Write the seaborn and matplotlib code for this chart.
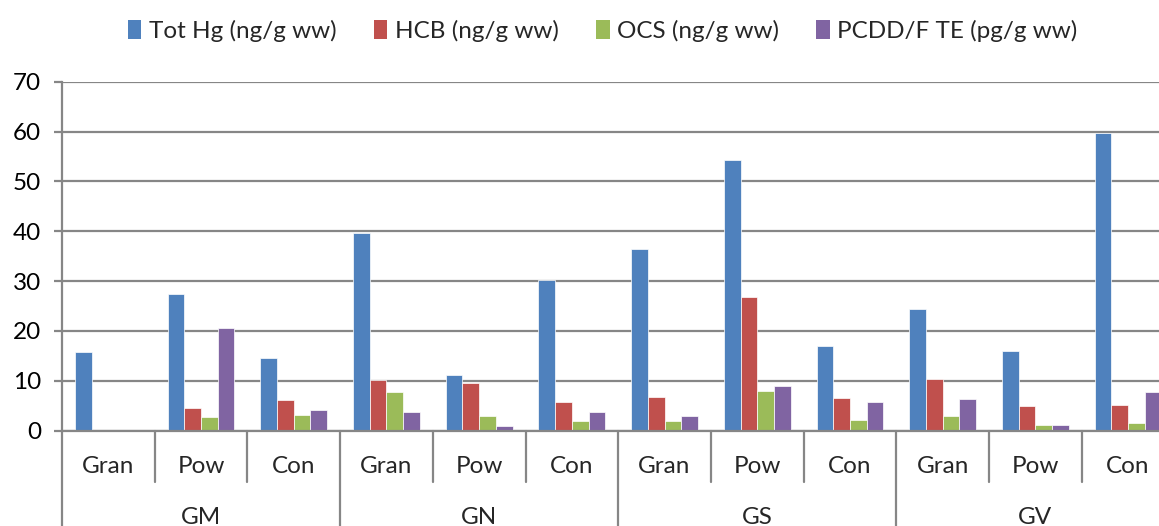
import matplotlib
matplotlib.use("Agg")
import matplotlib.pyplot as plt
import matplotlib.transforms as mtransforms
from matplotlib.patches import Patch
import numpy as np
import pandas as pd
import seaborn as sns

# ---- data ----
groups = ["GM", "GN", "GS", "GV"]
subcats = ["Gran", "Pow", "Con"]
series = ["Tot Hg (ng/g ww)", "HCB (ng/g ww)", "OCS (ng/g ww)", "PCDD/F TE (pg/g ww)"]
tot_hg = [15.7, 27.5, 14.5, 39.7, 11.1, 30.2, 36.4, 54.3, 17.0, 24.3, 15.9, 59.7]
hcb = [np.nan, 4.5, 6.1, 10.1, 9.5, 5.7, 6.8, 26.7, 6.6, 10.3, 4.85, 5.05]
ocs = [np.nan, 2.65, 3.1, 7.8, 2.85, 1.9, 2.0, 7.9, 2.1, 3.0, 1.2, 1.45]
pcdd = [np.nan, 20.6, 4.2, 3.7, 0.85, 3.7, 2.85, 8.95, 5.7, 6.25, 1.1, 7.8]
colors = ["#4F81BD", "#C0504D", "#9BBB59", "#8064A2"]
yticks = [0, 10, 20, 30, 40, 50, 60, 70]

cats = [f"{g}|{s}" for g in groups for s in subcats]
df = pd.DataFrame({
    "cat": cats * 4,
    "series": np.repeat(series, len(cats)),
    "value": tot_hg + hcb + ocs + pcdd,
})

sns.set_style("white")
plt.rcParams["font.family"] = ["Lato", "DejaVu Sans"]

FS = 17.5
fig = plt.figure(figsize=(11.59, 5.26), dpi=100)
W, H = 1159, 526
left_px, top_px, bottom_px = 62, 81.8, 430.5
cat_w = 92.7
ax = fig.add_axes([left_px / W, (H - bottom_px) / H,
                   cat_w * 12 / W, (bottom_px - top_px) / H])

sns.barplot(data=df, x="cat", y="value", hue="series", order=cats,
            hue_order=series, palette=colors, saturation=1, width=0.72, gap=0,
            edgecolor="#ffffff", linewidth=0.5, ax=ax, legend=False)

ax.set_xlim(-0.5, len(cats) - 0.5)
ax.set_ylim(0, 70)
ax.set_yticks(yticks)
ax.set_yticklabels([str(v) for v in yticks], fontsize=FS)
ax.yaxis.grid(True, color="#868686", linewidth=1.6)
ax.set_axisbelow(True)
for s in ["top", "right", "bottom"]:
    ax.spines[s].set_visible(False)
ax.spines["left"].set_color("#868686")
ax.spines["left"].set_linewidth(1.6)
ax.tick_params(axis="y", which="both", left=True, length=6, width=1.6,
               color="#868686", pad=9, labelcolor="black")
ax.set_xlabel("")
ax.set_ylabel("")
ax.set_xticks([])

# multi-level category axis
trans = mtransforms.blended_transform_factory(ax.transData, ax.transAxes)
ax.axhline(0, color="#868686", linewidth=1.6, zorder=5, clip_on=False)
for i in range(len(cats) + 1):
    pos = i - 0.5
    is_group = (i % len(subcats) == 0)
    y_end = -0.35 if is_group else -0.148
    ax.plot([pos, pos], [0, y_end], transform=trans, color="#868686",
            linewidth=1.6, clip_on=False)
for i, c in enumerate(cats):
    ax.text(i, -0.103, c.split("|")[1], transform=trans, ha="center",
            va="center", fontsize=FS)
for gi, g in enumerate(groups):
    center = gi * len(subcats) + (len(subcats) - 1) / 2
    ax.text(center, -0.25, g, transform=trans, ha="center", va="center",
            fontsize=FS)

handles = [Patch(facecolor=c, edgecolor="none") for c in colors]
fig.legend(handles, series, loc="center", bbox_to_anchor=(0.52, 1 - 31 / H),
           ncol=4, frameon=False, fontsize=FS, handlelength=0.55,
           handleheight=0.85, handletextpad=0.3, columnspacing=1.55)

fig.savefig("out.png", dpi=100)
